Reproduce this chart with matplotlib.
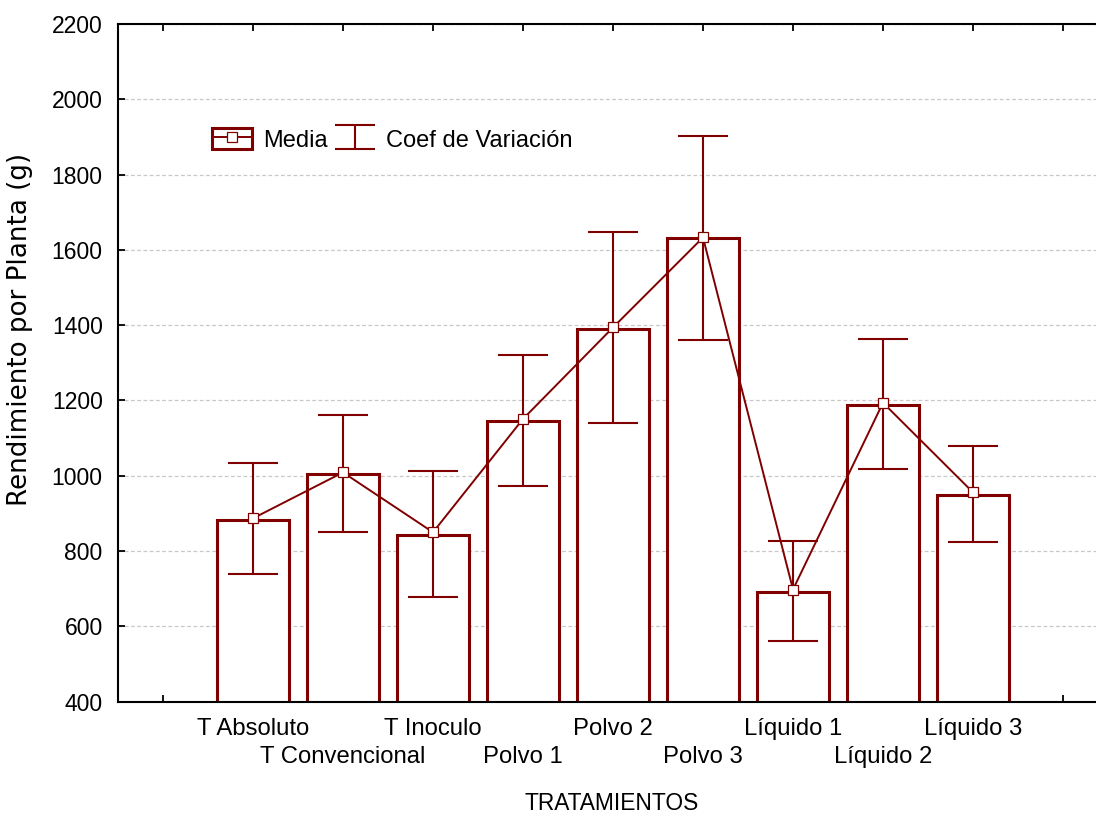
import matplotlib
matplotlib.use("Agg")
import matplotlib.pyplot as plt
from matplotlib.lines import Line2D
from matplotlib.patches import Rectangle
from matplotlib.path import Path
from matplotlib.legend_handler import HandlerTuple

# ---- data ----
categories = ["T Absoluto", "T Convencional", "T Inoculo", "Polvo 1", "Polvo 2",
              "Polvo 3", "Líquido 1", "Líquido 2", "Líquido 3"]
bar_values = [882, 1004, 844, 1145, 1391, 1632, 691, 1188, 950]
mean_values = [887, 1009, 850, 1151, 1394, 1633, 698, 1194, 956]
err_upper = [1033, 1161, 1014, 1320, 1647, 1903, 827, 1363, 1080]
err_lower = [738, 852, 677, 973, 1139, 1362, 561, 1018, 823]
y_ticks = [400, 600, 800, 1000, 1200, 1400, 1600, 1800, 2000, 2200]

RED = "#800000"
FONT = "Liberation Sans"

fig = plt.figure(figsize=(10.96, 8.14), dpi=100)
ax = fig.add_axes([118 / 1096, (814 - 701.7) / 814, 990 / 1096, 677.7 / 814])

x = list(range(1, len(categories) + 1))
ax.bar(x, bar_values, width=0.79, bottom=0, facecolor="white", edgecolor=RED,
       linewidth=2.2, zorder=2)
yerr = [[m - lo for m, lo in zip(mean_values, err_lower)],
        [hi - m for m, hi in zip(mean_values, err_upper)]]
ax.errorbar(x, mean_values, yerr=yerr, fmt="none", ecolor=RED, elinewidth=1.5,
            capsize=18, capthick=1.5, zorder=3)
ax.plot(x, mean_values, color=RED, linewidth=1.4, marker="s", markersize=7.3,
        markerfacecolor="white", markeredgecolor=RED, markeredgewidth=0.9, zorder=4)

ax.set_xlim(-0.5, 10.5)
ax.set_ylim(400, 2200)
ax.set_yticks(y_ticks)
ax.set_yticklabels([str(v) for v in y_ticks], fontfamily=FONT, fontsize=16.5)

# staggered category labels: odd positions on row 1 (major), even on row 2 (minor)
major_pos = [p for p in x if p % 2 == 1]
minor_pos = [0] + [p for p in x if p % 2 == 0] + [len(categories) + 1]
ax.set_xticks(major_pos)
ax.set_xticklabels([categories[p - 1] for p in major_pos], fontfamily=FONT, fontsize=17.2)
ax.set_xticks(minor_pos, minor=True)
ax.set_xticklabels([""] + [categories[p - 1] for p in minor_pos[1:-1]] + [""],
                   minor=True, fontfamily=FONT, fontsize=17.2)

ax.tick_params(axis="both", which="both", direction="in", length=5, width=1.3,
               color="black", top=True, right=False)
ax.tick_params(axis="y", pad=11)
ax.tick_params(axis="x", which="major", pad=11.5)
ax.tick_params(axis="x", which="minor", pad=32)

for s in ax.spines.values():
    s.set_linewidth(1.5)
    s.set_color("black")

ax.set_axisbelow(True)
ax.yaxis.grid(True, linestyle=(0, (3, 2)), color="#c8c8c8", linewidth=0.9)

ax.set_xlabel("TRATAMIENTOS", fontfamily=FONT, fontsize=16.4)
ax.xaxis.set_label_coords(0.499, -0.1495)
ax.xaxis.label.set_va("center")
ax.set_ylabel("Rendimiento por Planta (g)", fontfamily="DejaVu Sans", fontsize=18.8)
ax.yaxis.set_label_coords(-0.0985, 0.549)
ax.yaxis.label.set_va("center")

# legend proxies
media_box = Rectangle((0, 0), 1, 1, facecolor="white", edgecolor=RED, linewidth=2.2)
media_line = Line2D([], [], color=RED, linewidth=1.4, marker="s", markersize=7.3,
                    markerfacecolor="white", markeredgecolor=RED, markeredgewidth=0.9)
ipath = Path([(-1, 0.6), (1, 0.6), (0, 0.6), (0, -0.6), (-1, -0.6), (1, -0.6)],
             [Path.MOVETO, Path.LINETO, Path.MOVETO, Path.LINETO, Path.MOVETO, Path.LINETO])
err_handle = Line2D([], [], linestyle="none", marker=ipath, markersize=28.8,
                    markerfacecolor="none", markeredgecolor=RED, markeredgewidth=1.5)
leg = ax.legend([(media_box, media_line), err_handle], ["Media", "Coef de Variación"],
                handler_map={tuple: HandlerTuple(ndivide=1, pad=0)},
                loc="center left", bbox_to_anchor=(0.0949, 0.829), ncol=2,
                frameon=False, borderpad=0, borderaxespad=0,
                handlelength=1.7, handleheight=1.02, handletextpad=0.47,
                columnspacing=0.3, numpoints=1,
                prop={"family": FONT, "size": 17.0})

fig.savefig("out.png", dpi=100, facecolor="white")
